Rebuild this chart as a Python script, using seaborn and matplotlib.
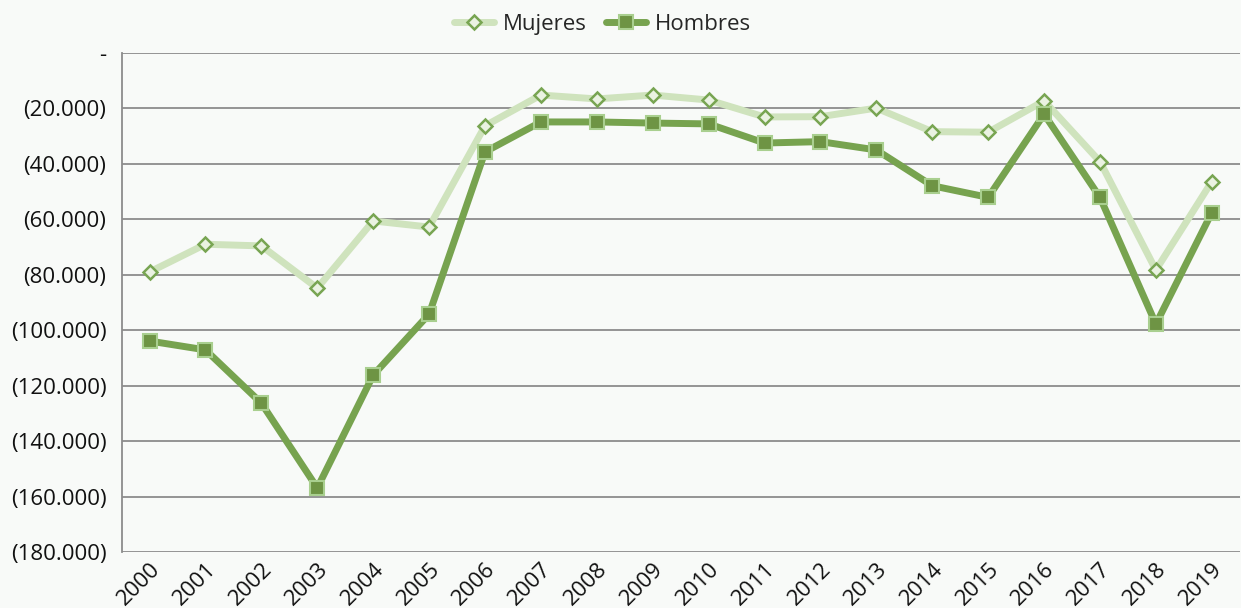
import numpy as np
import pandas as pd
import matplotlib
matplotlib.use("Agg")
import matplotlib.pyplot as plt
import seaborn as sns
from matplotlib.ticker import FuncFormatter

# Data
years = [str(y) for y in range(2000, 2020)]
mujeres = [-79000, -69000, -69600, -84800, -60600, -62800, -26300, -15200, -16600, -15200,
           -17000, -23100, -23000, -19900, -28400, -28600, -17300, -39200, -78300, -46400]
hombres = [-103900, -107100, -126300, -156900, -116200, -94200, -35700, -24900, -24900, -25300,
           -25600, -32500, -32000, -35000, -47900, -52100, -22100, -52100, -97800, -57600]

df = pd.DataFrame({"year": years * 2,
                   "value": mujeres + hombres,
                   "serie": ["Mujeres"] * len(years) + ["Hombres"] * len(years)})

sns.set_style("white")
plt.rcParams['font.family'] = ['Open Sans', 'DejaVu Sans']

bg = '#f8faf8'
fig, ax = plt.subplots(figsize=(12.41, 6.08), dpi=100)
fig.patch.set_facecolor(bg)
ax.set_facecolor(bg)

x = np.arange(len(years))
ax.plot(x, mujeres, color='#cfe3bd', linewidth=5, marker='D', markersize=7,
        markerfacecolor='#eaf2e2', markeredgecolor='#78a552', markeredgewidth=1.8,
        label='Mujeres', zorder=3)
ax.plot(x, hombres, color='#77a34f', linewidth=5, marker='s', markersize=10,
        markerfacecolor='#6e9444', markeredgecolor='#a9cf8f', markeredgewidth=1.5,
        label='Hombres', zorder=4)

ax.set_xlim(-0.5, len(years) - 0.5)
ax.set_ylim(-180000, 0)
ax.set_yticks(np.arange(-180000, 1, 20000))


def fmt(v, pos):
    if v == 0:
        return '-'
    return '({:,.0f})'.format(abs(v)).replace(',', '.')


ax.yaxis.set_major_formatter(FuncFormatter(fmt))
ax.set_xticks(x)
ax.set_xticklabels(years, rotation=45, ha='right', rotation_mode='anchor')
ax.tick_params(axis='both', labelsize=16, length=0, colors='#111111')
ax.tick_params(axis='y', pad=11)
ax.tick_params(axis='x', pad=5)

ax.grid(axis='y', color='#8c8c8c', linewidth=1.3)
ax.set_axisbelow(True)
for s in ['top', 'right', 'bottom']:
    ax.spines[s].set_visible(False)
ax.spines['left'].set_color('#8c8c8c')
ax.spines['left'].set_linewidth(1.3)

ax.legend(loc='center', bbox_to_anchor=(0.43, 1.057), ncol=2, frameon=False,
          fontsize=16, handlelength=1.8, columnspacing=0.9, handletextpad=0.4)

fig.subplots_adjust(left=0.098, right=0.999, top=0.913, bottom=0.092)
fig.savefig('out.png', dpi=100, facecolor=bg)
